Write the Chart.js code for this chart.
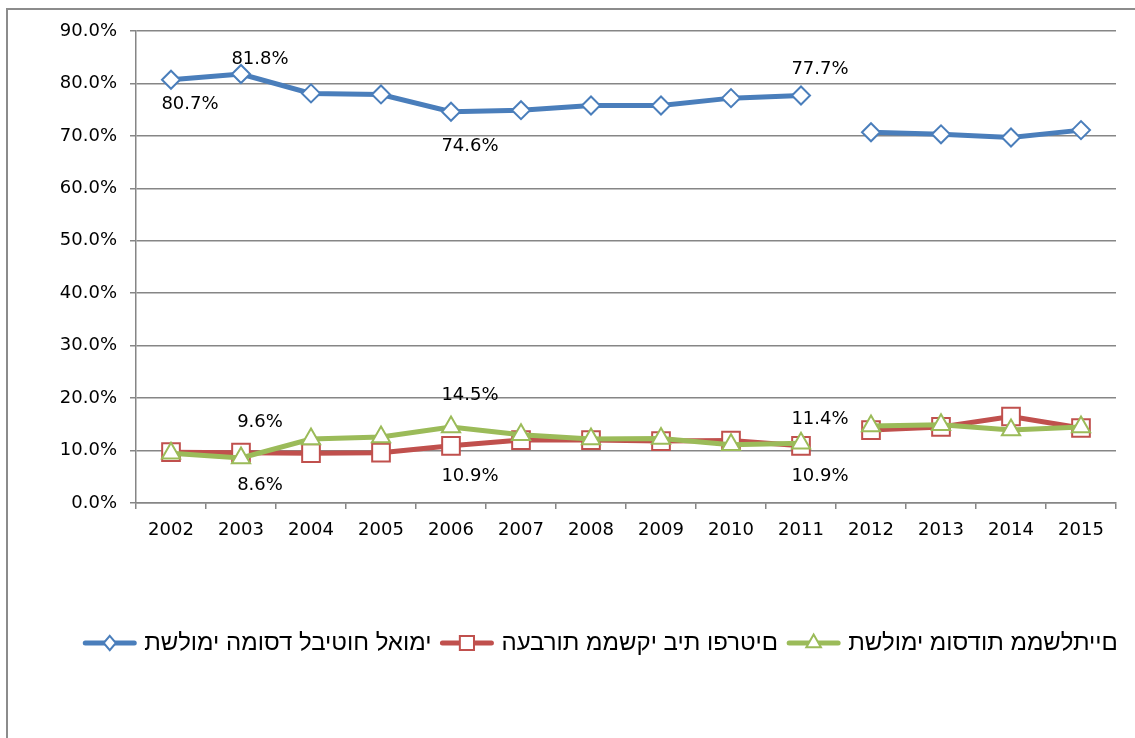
<!DOCTYPE html>
<html>
<head>
<meta charset="utf-8">
<script src="https://cdn.jsdelivr.net/npm/chart.js@4.4.1/dist/chart.umd.min.js"></script>
<style>
  html, body { margin: 0; padding: 0; background: #fff; }
</style>
</head>
<body>
<canvas id="chartPagamentos" width="1135" height="738"></canvas>
<script>
// anos
const years = ['2002', '2003', '2004', '2005', '2006', '2007', '2008', '2009', '2010', '2011', '2012', '2013', '2014', '2015'];

// séries (%)
const nationalInsurance = [80.7, 81.8, 78.1, 77.9, 74.6, 74.9, 75.8, 75.8, 77.2, 77.7, 70.7, 70.3, 69.7, 71.1];
const householdTransfers = [9.7, 9.6, 9.5, 9.6, 10.9, 12.0, 12.0, 11.8, 11.9, 10.9, 13.9, 14.5, 16.5, 14.3];
const govInstitutions = [9.5, 8.6, 12.2, 12.6, 14.5, 13.0, 12.2, 12.3, 11.1, 11.4, 14.7, 14.9, 13.9, 14.5];

const seriesNames = ['תשלומי המוסד לביטוח לאומי', 'העברות ממשקי בית ופרטים', 'תשלומי מוסדות ממשלתיים'];

// eixo y
const yTicks = [0, 10, 20, 30, 40, 50, 60, 70, 80, 90];

// índice do último ponto antes da quebra da linha (2011 -> 2012)
const breakAfter = 9;

const numFont = { family: 'DejaVu Sans', size: 18 };
const gridGray = '#868686';

const colors = {
    blue: '#4A7EBB',
    red: '#C0504D',
    green: '#9BBB59'
};

const hideBreak = {
    borderColor: c => c.p0DataIndex === breakAfter ? 'rgba(0,0,0,0)' : undefined
};

// o canvas aqui não reordena texto bidi: passa para a ordem visual
const visualOrder = s => Array.from(s).reverse().join('');

// moldura cinza
const framePlugin = {
    id: 'frame',
    beforeDraw(chart) {
        const { ctx } = chart;
        ctx.save();
        ctx.fillStyle = '#fff';
        ctx.fillRect(0, 0, chart.width, chart.height);
        ctx.strokeStyle = '#8c8c8c';
        ctx.lineWidth = 2;
        ctx.strokeRect(7, 9, chart.width + 20, chart.height + 20);
        ctx.restore();
    }
};

// rótulos de valores
const valueLabels = {
    id: 'valueLabels',
    afterDatasetsDraw(chart, args, opts) {
        const { ctx } = chart;
        ctx.save();
        ctx.font = '18px "DejaVu Sans"';
        ctx.fillStyle = '#000';
        ctx.textAlign = 'center';
        ctx.textBaseline = 'middle';
        opts.spots.forEach((list, dsIndex) => {
            const meta = chart.getDatasetMeta(dsIndex);
            const values = chart.data.datasets[dsIndex].data;
            list.forEach(s => {
                const pt = meta.data[s.i];
                ctx.fillText(values[s.i].toFixed(1) + '%', pt.x + opts.dx, pt.y + s.dy);
            });
        });
        ctx.restore();
    }
};

function drawMarkerPath(ctx, style, x, y, r) {
    if (style === 'rectRot') {
        ctx.moveTo(x, y - r);
        ctx.lineTo(x + r * 0.85, y);
        ctx.lineTo(x, y + r);
        ctx.lineTo(x - r * 0.85, y);
        ctx.closePath();
    } else if (style === 'rect') {
        const s = r / Math.SQRT2;
        ctx.rect(x - s, y - s, 2 * s, 2 * s);
    } else {
        ctx.moveTo(x, y - r);
        ctx.lineTo(x + r * 0.866, y + r / 2);
        ctx.lineTo(x - r * 0.866, y + r / 2);
        ctx.closePath();
    }
}

// legenda: linha com marcador + texto em hebraico
const lineLegend = {
    id: 'lineLegend',
    afterDraw(chart, args, opts) {
        const { ctx } = chart;
        const ds = chart.data.datasets;
        const lineW = 55, gapText = 7, gapItem = 8;
        ctx.save();
        ctx.font = opts.font;
        const texts = ds.map(d => visualOrder(d.label));
        const widths = texts.map(t => ctx.measureText(t).width);
        const total = widths.reduce((a, w) => a + lineW + gapText + w, 0) + gapItem * (ds.length - 1);
        let x = opts.centerX - total / 2;
        const y = opts.y;
        ds.forEach((d, i) => {
            // linha
            ctx.strokeStyle = d.borderColor;
            ctx.lineWidth = 5;
            ctx.lineCap = 'round';
            ctx.beginPath();
            ctx.moveTo(x + 3, y);
            ctx.lineTo(x + lineW - 3, y);
            ctx.stroke();
            // marcador
            ctx.fillStyle = '#fff';
            ctx.lineWidth = 2;
            ctx.beginPath();
            drawMarkerPath(ctx, d.pointStyle, x + lineW / 2, y, d.pointRadius * 0.8);
            ctx.fill();
            ctx.stroke();
            x += lineW + gapText;
            // texto
            ctx.fillStyle = '#000';
            ctx.textAlign = 'left';
            ctx.textBaseline = 'middle';
            ctx.fillText(texts[i], x, y);
            x += widths[i] + gapItem;
        });
        ctx.restore();
    }
};

new Chart(document.getElementById('chartPagamentos'), {
    type: 'line',
    data: {
        labels: years,
        datasets: [{
            label: seriesNames[0],
            data: nationalInsurance,
            borderColor: colors.blue,
            backgroundColor: '#fff',
            borderWidth: 5,
            pointStyle: 'rectRot',
            pointRadius: 9,
            pointBorderWidth: 2,
            pointBackgroundColor: '#fff',
            segment: hideBreak,
            order: 0
        }, {
            label: seriesNames[1],
            data: householdTransfers,
            borderColor: colors.red,
            backgroundColor: '#fff',
            borderWidth: 5,
            pointStyle: 'rect',
            pointRadius: 12.5,
            pointBorderWidth: 2,
            pointBackgroundColor: '#fff',
            segment: hideBreak,
            order: 2
        }, {
            label: seriesNames[2],
            data: govInstitutions,
            borderColor: colors.green,
            backgroundColor: '#fff',
            borderWidth: 5,
            pointStyle: 'triangle',
            pointRadius: 10.5,
            pointBorderWidth: 2,
            pointBackgroundColor: '#fff',
            segment: hideBreak,
            order: 1
        }]
    },
    options: {
        responsive: false,
        animation: false,
        layout: { padding: { top: 31, right: 19, left: 0, bottom: 0 } },
        plugins: {
            legend: { display: false },
            tooltip: { enabled: false },
            valueLabels: {
                dx: 19,
                spots: [
                    [{ i: 0, dy: 25 }, { i: 1, dy: -15 }, { i: 4, dy: 35 }, { i: 9, dy: -26 }],
                    [{ i: 1, dy: -30 }, { i: 4, dy: 30 }, { i: 9, dy: 30 }],
                    [{ i: 1, dy: 27 }, { i: 4, dy: -32 }, { i: 9, dy: -24 }]
                ]
            },
            lineLegend: {
                font: '24px "Liberation Sans", "DejaVu Sans"',
                centerX: 600,
                y: 643
            }
        },
        scales: {
            y: {
                min: 0,
                max: 90,
                afterBuildTicks: s => { s.ticks = yTicks.map(v => ({ value: v })); },
                afterFit: s => { s.width = 136; },
                ticks: {
                    font: numFont,
                    color: '#000',
                    padding: 13,
                    callback: v => v.toFixed(1) + '%'
                },
                grid: { color: gridGray, lineWidth: 1.5, tickLength: 6 },
                border: { color: gridGray, width: 1.5 }
            },
            x: {
                offset: true,
                afterFit: s => { s.height = 235; },
                ticks: { font: numFont, color: '#000', padding: 11, maxRotation: 0 },
                grid: { drawOnChartArea: false, offset: true, color: gridGray, lineWidth: 1.5, tickLength: 6 },
                border: { color: gridGray, width: 1.5 }
            }
        }
    },
    plugins: [framePlugin, valueLabels, lineLegend]
});
</script>
</body>
</html>
